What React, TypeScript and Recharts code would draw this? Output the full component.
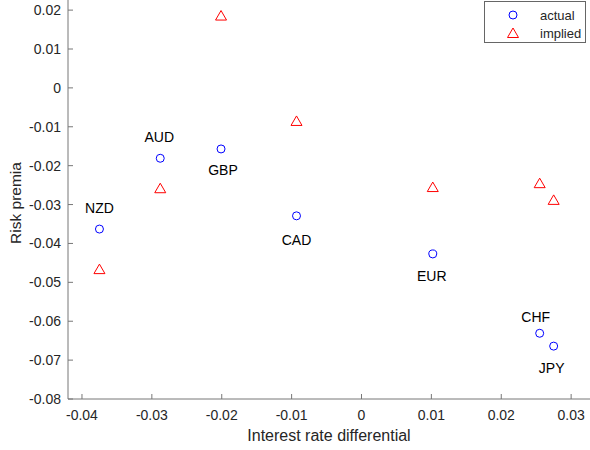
import { Scatter, ScatterChart, XAxis, YAxis } from "recharts";

// currency pairs vs USD
const currencies = ["NZD", "AUD", "GBP", "CAD", "EUR", "CHF", "JPY"];
const rateDiff = [-0.0375, -0.0288, -0.0201, -0.0093, 0.0102, 0.0255, 0.0275];
const actualPremia = [-0.0363, -0.0181, -0.0157, -0.0329, -0.0427, -0.0631, -0.0664];
const impliedPremia = [-0.0466, -0.0258, 0.0186, -0.0085, -0.0255, -0.0245, -0.0288];

const xTicks = [-0.04, -0.03, -0.02, -0.01, 0, 0.01, 0.02, 0.03];
const yTicks = [-0.08, -0.07, -0.06, -0.05, -0.04, -0.03, -0.02, -0.01, 0, 0.01, 0.02];

const actual = currencies.map((name, i) => ({ name, x: rateDiff[i], y: actualPremia[i] }));
const implied = currencies.map((name, i) => ({ name, x: rateDiff[i], y: impliedPremia[i] }));

const FONT = "'Liberation Sans', Arial, Helvetica, sans-serif";
const AXIS = "#777777";
const TEXT = "#262626";

// where each currency label sits relative to its circle (centre offset, px)
const labelPos: Record<string, [number, number]> = {
  NZD: [0, -21],
  AUD: [-1, -21],
  GBP: [2, 21],
  CAD: [0, 24],
  EUR: [-1, 22],
  CHF: [-4, -16],
  JPY: [-2, 22],
};

const Circle = (props: any) => {
  const { cx, cy, payload } = props;
  const [dx, dy] = labelPos[payload.name] ?? [0, -20];
  return (
    <g>
      <circle cx={cx} cy={cy} r={4} fill="none" stroke="#0000ff" strokeWidth={1} />
      <text
        x={cx + dx}
        y={cy + dy + 5}
        textAnchor="middle"
        fontSize={14}
        fontFamily={FONT}
        fill="#000"
      >
        {payload.name}
      </text>
    </g>
  );
};

const Triangle = (props: any) => {
  const { cx, cy } = props;
  return (
    <polygon
      points={`${cx},${cy - 5} ${cx + 5.5},${cy + 4.5} ${cx - 5.5},${cy + 4.5}`}
      fill="none"
      stroke="#ff0000"
      strokeWidth={1}
    />
  );
};

const XLabel = (props: any) => {
  const { viewBox } = props;
  const cx = viewBox.x + viewBox.width / 2;
  return (
    <text x={cx} y={441} textAnchor="middle" fontSize={16} fontFamily={FONT} fill={TEXT}>
      Interest rate differential
    </text>
  );
};

const YLabel = () => (
  <text
    x={21}
    y={203}
    transform="rotate(-90, 21, 203)"
    textAnchor="middle"
    fontSize={15.5}
    fontFamily={FONT}
    fill={TEXT}
  >
    Risk premia
  </text>
);

const Legend = () => (
  <div
    style={{
      position: "absolute",
      left: 484,
      top: 1,
      width: 102,
      height: 42,
      boxSizing: "border-box",
      border: "1px solid #666",
      background: "#fff",
    }}
  >
    <svg width={100} height={40} style={{ display: "block", overflow: "visible" }}>
      <circle cx={28} cy={13} r={4} fill="none" stroke="#0000ff" />
      <text x={55} y={17.5} fontSize={13} fontFamily={FONT} fill={TEXT}>
        actual
      </text>
      <polygon points="28,26 33.5,35.5 22.5,35.5" fill="none" stroke="#ff0000" />
      <text x={55} y={35.5} fontSize={13} fontFamily={FONT} fill={TEXT}>
        implied
      </text>
    </svg>
  </div>
);

export default function App() {
  return (
    <div style={{ position: "absolute", left: 0, top: 0, width: 590, height: 450, background: "#fff" }}>
      <ScatterChart width={590} height={450} margin={{ top: 0, right: 0, bottom: 0, left: 0 }}>
        <XAxis
          type="number"
          dataKey="x"
          domain={[-0.042, 0.0327]}
          ticks={xTicks}
          allowDataOverflow
          height={51}
          stroke={AXIS}
          tickSize={-5}
          tickMargin={16}
          tick={{ fontSize: 14, fill: TEXT, fontFamily: FONT }}
          label={<XLabel />}
        />
        <YAxis
          type="number"
          dataKey="y"
          domain={[-0.08, 0.0226]}
          ticks={yTicks}
          allowDataOverflow
          width={68}
          stroke={AXIS}
          tickSize={-5}
          tickMargin={12}
          tick={{ fontSize: 14, fill: TEXT, fontFamily: FONT }}
          label={<YLabel />}
        />
        <Scatter name="actual" data={actual} shape={Circle} isAnimationActive={false} />
        <Scatter name="implied" data={implied} shape={Triangle} isAnimationActive={false} />
      </ScatterChart>
      <Legend />
    </div>
  );
}
